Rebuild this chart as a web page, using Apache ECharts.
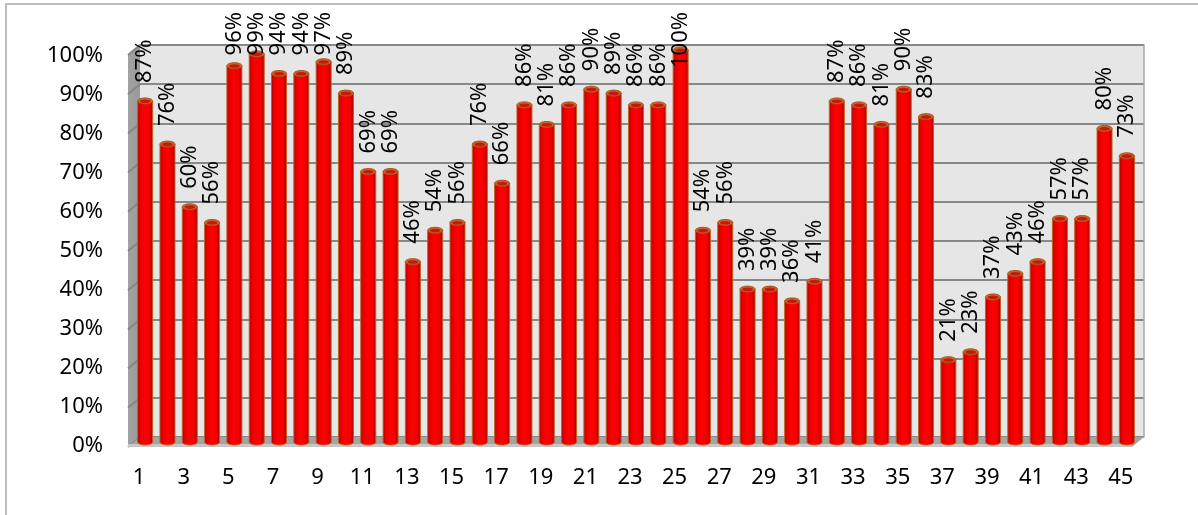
<!DOCTYPE html>
<html>
<head>
<meta charset="utf-8">
<script src="https://cdn.jsdelivr.net/npm/echarts@6/dist/echarts.min.js"></script>
<style>
  html, body { margin: 0; padding: 0; background: #ffffff; }
  #chart { width: 1198px; height: 515px; }
</style>
</head>
<body>
<div id="chart"></div>
<script>
// Category labels along the x axis
const categories = ['1','2','3','4','5','6','7','8','9','10','11','12','13','14','15',
  '16','17','18','19','20','21','22','23','24','25','26','27','28','29','30',
  '31','32','33','34','35','36','37','38','39','40','41','42','43','44','45'];

// Rate per category, in percent
const rates = [87, 76, 60, 56, 96, 99, 94, 94, 97, 89, 69, 69, 46, 54, 56,
  76, 66, 86, 81, 86, 90, 89, 86, 86, 100, 54, 56, 39, 39, 36,
  41, 87, 86, 81, 90, 83, 21, 23, 37, 43, 46, 57, 57, 80, 73];

// Value axis range and step (percent)
const yMin = 0;
const yMax = 100;
const yStep = 10;

const FONT = '"Noto Sans", "Liberation Sans", sans-serif';
const FONT_SIZE = 22;

// Oblique offset of the chart's depth (front edge relative to back wall)
const DEPTH_DX = -12;
const DEPTH_DY = 10;

const measureCtx = document.createElement('canvas').getContext('2d');
measureCtx.font = FONT_SIZE + 'px ' + FONT;

// Left side wall and floor of the 3D box, drawn in the back-wall coordinate system
function renderBox(params, api) {
  const cs = params.coordSys;
  const x = cs.x, y = cs.y, w = cs.width, h = cs.height;
  const children = [];
  children.push({
    type: 'polygon',
    shape: { points: [[x, y], [x, y + h], [x + DEPTH_DX, y + h + DEPTH_DY], [x + DEPTH_DX, y + DEPTH_DY]] },
    style: {
      fill: new echarts.graphic.LinearGradient(0, 0, 1, 0, [
        { offset: 0, color: '#a2a2a2' }, { offset: 1, color: '#9a9a9a' }
      ])
    }
  });
  for (let v = yMin; v <= yMax; v += yStep) {
    const py = api.coord([0, v])[1];
    children.push({
      type: 'line',
      shape: { x1: x, y1: py, x2: x + DEPTH_DX, y2: py + DEPTH_DY },
      style: { stroke: '#868686', lineWidth: 2 }
    });
  }
  // floor top surface
  children.push({
    type: 'polygon',
    shape: { points: [[x, y + h], [x + w, y + h], [x + w + DEPTH_DX, y + h + DEPTH_DY], [x + DEPTH_DX, y + h + DEPTH_DY]] },
    style: { fill: '#a4a4a4' }
  });
  // floor front edge
  children.push({
    type: 'line',
    shape: { x1: x + DEPTH_DX, y1: y + h + DEPTH_DY - 1.5, x2: x + w + DEPTH_DX, y2: y + h + DEPTH_DY - 1.5 },
    style: { stroke: '#c6c6c6', lineWidth: 3 }
  });
  return { type: 'group', children: children };
}

// One cylinder per category, with its rotated value label
function renderCylinder(params, api) {
  const cs = params.coordSys;
  const idx = api.value(0);
  const val = api.value(1);
  const top = api.coord([idx, val]);
  const base = api.coord([idx, yMin]);
  const cx = top[0], ty = top[1], by = base[1];
  const rx = 7.5, ry = 3;
  const edge = '#bf6424';
  const bodyFill = new echarts.graphic.LinearGradient(0, 0, 1, 0, [
    { offset: 0, color: '#b40000' },
    { offset: 0.18, color: '#e80000' },
    { offset: 0.45, color: '#ff0000' },
    { offset: 0.78, color: '#f20000' },
    { offset: 1, color: '#a80000' }
  ]);
  const text = val + '%';
  const tw = measureCtx.measureText(text).width;
  let labelBase = ty - ry - 15;
  const ceiling = cs.y - 38;
  if (labelBase - tw < ceiling) labelBase = ceiling + tw;

  return {
    type: 'group',
    children: [
      {
        type: 'ellipse',
        shape: { cx: cx, cy: by, rx: rx, ry: ry },
        style: { fill: bodyFill, stroke: edge, lineWidth: 1 }
      },
      {
        type: 'rect',
        shape: { x: cx - rx, y: ty, width: rx * 2, height: by - ty },
        style: { fill: bodyFill }
      },
      {
        type: 'line',
        shape: { x1: cx - rx, y1: ty, x2: cx - rx, y2: by },
        style: { stroke: edge, lineWidth: 1 }
      },
      {
        type: 'line',
        shape: { x1: cx + rx, y1: ty, x2: cx + rx, y2: by },
        style: { stroke: edge, lineWidth: 1 }
      },
      {
        type: 'ellipse',
        shape: { cx: cx, cy: ty, rx: rx, ry: ry },
        style: { fill: '#c9652a', stroke: '#a9521c', lineWidth: 1 }
      },
      {
        type: 'ellipse',
        shape: { cx: cx, cy: ty + 0.3, rx: rx - 2.2, ry: ry - 1.2 },
        style: { fill: '#c41a0c' }
      },
      {
        type: 'text',
        x: cx,
        y: labelBase,
        rotation: Math.PI / 2,
        z2: 10,
        style: {
          text: text,
          x: 0,
          y: 0,
          align: 'left',
          verticalAlign: 'middle',
          fill: '#000000',
          font: FONT_SIZE + 'px ' + FONT
        }
      }
    ]
  };
}

const chart = echarts.init(document.getElementById('chart'), null, { renderer: 'canvas' });

const hiddenCategory = (gridIndex) => ({
  type: 'category',
  gridIndex: gridIndex,
  data: categories,
  show: false
});
const hiddenValue = (gridIndex) => ({
  type: 'value',
  gridIndex: gridIndex,
  min: yMin,
  max: yMax,
  interval: yStep,
  show: false
});

chart.setOption({
  animation: false,
  backgroundColor: '#ffffff',
  textStyle: { fontFamily: FONT },
  graphic: [{
    type: 'rect',
    silent: true,
    shape: { x: 6, y: 4, width: 1400, height: 800 },
    style: { fill: 'none', stroke: '#bdbdbd', lineWidth: 2 },
    z: -10
  }],
  grid: [
    // back wall
    { left: 140, right: 54, top: 45, bottom: 78, show: true, backgroundColor: '#e6e6e6', borderWidth: 0 },
    // mid plane carrying the cylinders
    { left: 134, right: 60, top: 50, bottom: 73 },
    // front plane carrying the axis labels
    { left: 128, right: 66, top: 56, bottom: 69 }
  ],
  xAxis: [
    hiddenCategory(0),
    hiddenCategory(1),
    {
      type: 'category',
      gridIndex: 2,
      data: categories,
      axisLine: { show: false },
      axisTick: { show: false },
      axisLabel: { interval: 1, fontSize: FONT_SIZE, color: '#000000', margin: 21, fontFamily: FONT }
    }
  ],
  yAxis: [
    {
      type: 'value',
      gridIndex: 0,
      min: yMin,
      max: yMax,
      interval: yStep,
      position: 'right',
      axisLine: { show: true, lineStyle: { color: '#a8a8a8', width: 1.5 } },
      axisTick: { show: false },
      axisLabel: { show: false },
      splitLine: { show: true, lineStyle: { color: '#888888', width: 2 } }
    },
    hiddenValue(1),
    {
      type: 'value',
      gridIndex: 2,
      min: yMin,
      max: yMax,
      interval: yStep,
      axisLine: { show: false },
      axisTick: { show: false },
      splitLine: { show: false },
      axisLabel: { formatter: '{value}%', fontSize: FONT_SIZE, color: '#000000', margin: 25, fontFamily: FONT }
    }
  ],
  series: [
    {
      type: 'custom',
      xAxisIndex: 0,
      yAxisIndex: 0,
      silent: true,
      z: 1,
      data: [[0, 0]],
      renderItem: renderBox
    },
    {
      type: 'custom',
      xAxisIndex: 1,
      yAxisIndex: 1,
      z: 3,
      clip: false,
      data: rates.map((v, i) => [i, v]),
      encode: { x: 0, y: 1 },
      renderItem: renderCylinder
    }
  ]
});
</script>
</body>
</html>
